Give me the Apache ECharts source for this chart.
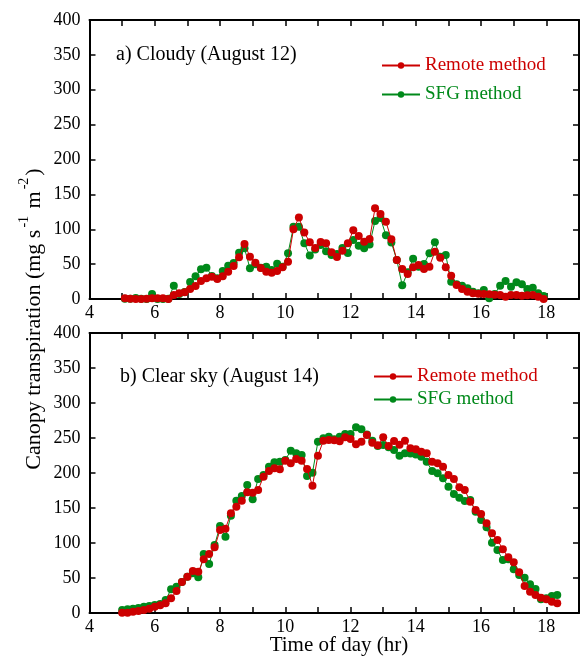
<!DOCTYPE html>
<html>
<head>
<meta charset="utf-8">
<script src="https://cdn.jsdelivr.net/npm/echarts@6/dist/echarts.min.js"></script>
<style>
  html, body { margin: 0; padding: 0; background: #fff; }
  #chart { width: 582px; height: 657px; }
</style>
</head>
<body>
<div id="chart"></div>
<script>
// Canopy transpiration, 10-minute readings, two days.
// Times are minutes after midnight.

// a) Cloudy day (August 12)
const timeA = [305, 315, 325, 335, 345, 355, 365, 375, 385, 395, 405, 415, 425, 435, 445, 455, 465, 475, 485, 495,
  505, 515, 525, 535, 545, 555, 565, 575, 585, 595, 605, 615, 625, 635, 645, 655, 665, 675, 685, 695,
  705, 715, 725, 735, 745, 755, 765, 775, 785, 795, 805, 815, 825, 835, 845, 855, 865, 875, 885, 895,
  905, 915, 925, 935, 945, 955, 965, 975, 985, 995, 1005, 1015, 1025, 1035, 1045, 1055, 1065, 1075];
const remoteA = [1, 0.5, 0, 0, 0.5, 1, 1, 1, 0, 5.7, 8.1, 9.6, 14.3, 18.6, 25.8, 29.6, 32, 28.7, 32.5, 39.2,
  47.3, 59.7, 78.9, 60.7, 52.1, 44.4, 39.2, 37.5, 40.3, 45.4, 53.5, 100, 116.8, 95.4, 81.2, 73.1, 81.7, 79.8, 66.9, 60.2,
  69.3, 79.8, 98.4, 90.3, 82.2, 86, 130, 121.9, 110.9, 85.5, 55.9, 43, 35.8, 45.4, 48.7, 43, 46.4, 67.9, 59.3, 45.4,
  33.5, 20.1, 14.3, 10.5, 8.1, 7.6, 7.2, 6.7, 6.2, 5.7, 3.3, 5.7, 5.7, 4.8, 5.3, 5.7, 3.3, 0];
const sfgA = [0.5, 0.5, 1.4, 0.5, 0, 7.2, 0, 0, 0.5, 19.1, 7, 10, 24.4, 32.5, 42.5, 44.9, 33, 29.6, 40.1, 47.8,
  51.6, 66.4, 72.6, 44, 50, 44.9, 46.3, 41.6, 50.7, 46.3, 65.5, 103.5, 103.7, 79.8, 62.3, 71, 77.5, 68.5, 63.1, 64.5,
  73, 66, 84.6, 76.2, 72.6, 78, 111.8, 116, 91.3, 81, 55.9, 19.6, 38.2, 57.8, 46.4, 50.2, 65.5, 81.2, 60.7, 63.1,
  24.9, 21, 19.1, 15.3, 10.5, 8.1, 12.9, 1, 7.2, 19.1, 25.8, 17.7, 23.9, 21, 14.3, 16.2, 8.1, 4.3];

// b) Clear-sky day (August 14)
const timeB = [300, 310, 320, 330, 340, 350, 360, 370, 380, 390, 400, 410, 420, 430, 440, 450, 460, 470, 480, 490,
  500, 510, 520, 530, 540, 550, 560, 570, 580, 590, 600, 610, 620, 630, 640, 650, 660, 670, 680, 690,
  700, 710, 720, 730, 740, 750, 760, 770, 780, 790, 800, 810, 820, 830, 840, 850, 860, 870, 880, 890,
  900, 910, 920, 930, 940, 950, 960, 970, 980, 990, 1000, 1010, 1020, 1030, 1040, 1050, 1060, 1070, 1080, 1090, 1100];
const remoteB = [0.5, 0.5, 1.9, 2.9, 4.3, 6.2, 9, 11, 13.8, 21, 31.4, 44.3, 51.9, 60, 59, 76.7, 84.3, 93.8, 118.6, 120.5,
  142.4, 151.9, 160.5, 172.4, 171.9, 175.7, 194.8, 202.9, 206.7, 205.2, 217.6, 213.8, 220, 217.6, 205.7, 181.9, 224.8, 246.2, 247.1, 246.7,
  245.2, 251, 248.6, 241, 244.8, 254.3, 243.3, 239.5, 251, 238.6, 245.7, 240.5, 246, 235.2, 234, 230.5, 228.1, 216.2, 213.8, 209,
  197.1, 191.4, 179.5, 175.7, 159, 147.1, 141.4, 128.1, 113.8, 104.3, 91, 79.5, 72.4, 58.1, 38.6, 30.5, 25.7, 21.9, 19.5, 16.2, 13.8];
const sfgB = [4.3, 5.2, 6.2, 7.1, 9, 10, 11.4, 12.9, 18.6, 33.8, 37.6, 44.3, 51.9, 56.7, 51, 84.3, 70, 97.1, 124.3, 109,
  139, 160.5, 167.1, 182.9, 162.6, 191.4, 197.1, 209, 215.2, 216.2, 218.6, 231.9, 228.1, 225.7, 195.7, 200.5, 244.8, 249.5, 251.9, 248.1,
  251.9, 255.7, 255.7, 265.2, 262.4, 255, 246.2, 238.6, 240, 236.7, 232.9, 224.5, 228.1, 228, 226.5, 223.3, 216.2, 202.9, 199.5, 192.4,
  180.5, 170, 164.8, 160, 161.4, 144.8, 132.9, 122.4, 100.5, 90, 75.7, 76.7, 62.4, 54.3, 50.5, 41, 34.3, 19.5, 21, 24.3, 25.7];

const FONT = '"Liberation Serif", "Times New Roman", serif';
const RED = '#cc0000';
const GREEN = '#00891a';

const toPairs = (mins, vals) => mins.map((m, i) => [m / 60, vals[i]]);

function xAxisFor(grid, pos, withLabels) {
  return {
    type: 'value', gridIndex: grid, position: pos, min: 4, max: 19, interval: 1,
    axisLine: { show: true, onZero: false, lineStyle: { color: '#000', width: 2 } },
    axisTick: { show: true, inside: true, length: 6, lineStyle: { color: '#000', width: 1.5 } },
    axisLabel: {
      show: withLabels, margin: 5, color: '#000', fontFamily: FONT, fontSize: 18,
      formatter: v => (v % 2 === 0 && v < 19) ? String(v) : ''
    },
    splitLine: { show: false }
  };
}

function yAxisFor(grid, pos, withLabels) {
  return {
    type: 'value', gridIndex: grid, position: pos, min: 0, max: 400, interval: 50,
    axisLine: { show: true, onZero: false, lineStyle: { color: '#000', width: 2 } },
    axisTick: { show: true, inside: true, length: 6, lineStyle: { color: '#000', width: 1.5 } },
    axisLabel: { show: withLabels, margin: 9, color: '#000', fontFamily: FONT, fontSize: 18 },
    splitLine: { show: false }
  };
}

function lineSeries(name, color, xi, yi, data, z) {
  return {
    type: 'line', name: name, xAxisIndex: xi, yAxisIndex: yi, data: data,
    symbol: 'circle', symbolSize: 8, showSymbol: true, z: z,
    lineStyle: { color: color, width: 1 },
    itemStyle: { color: color },
    emphasis: { disabled: true }
  };
}

function legendAt(left, top, gap) {
  return {
    left: left, top: top, orient: 'vertical', itemWidth: 38, itemHeight: 8, itemGap: gap,
    selectedMode: false,
    textStyle: { fontFamily: FONT, fontSize: 19 },
    data: [
      { name: 'Remote method', textStyle: { color: RED } },
      { name: 'SFG method', textStyle: { color: GREEN } }
    ]
  };
}

const chart = echarts.init(document.getElementById('chart'), null, { renderer: 'canvas' });

chart.setOption({
  animation: false,
  backgroundColor: '#fff',
  grid: [
    { left: 89.5, top: 20, width: 490.5, height: 279 },
    { left: 89.5, top: 333, width: 490.5, height: 280 }
  ],
  xAxis: [
    xAxisFor(0, 'bottom', true), xAxisFor(0, 'top', false),
    xAxisFor(1, 'bottom', true), xAxisFor(1, 'top', false)
  ],
  yAxis: [
    yAxisFor(0, 'left', true), yAxisFor(0, 'right', false),
    yAxisFor(1, 'left', true), yAxisFor(1, 'right', false)
  ],
  legend: [legendAt(376, 51, 10), legendAt(368, 362, 4)],
  series: [
    lineSeries('SFG method', GREEN, 0, 0, toPairs(timeA, sfgA), 2),
    lineSeries('Remote method', RED, 0, 0, toPairs(timeA, remoteA), 3),
    lineSeries('SFG method', GREEN, 2, 2, toPairs(timeB, sfgB), 2),
    lineSeries('Remote method', RED, 2, 2, toPairs(timeB, remoteB), 3)
  ],
  graphic: [
    {
      type: 'text', x: 116, y: 55,
      style: { text: 'a) Cloudy (August 12)', fill: '#000', font: '20px ' + FONT, verticalAlign: 'middle' }
    },
    {
      type: 'text', x: 120, y: 377,
      style: { text: 'b) Clear sky (August 14)', fill: '#000', font: '20px ' + FONT, verticalAlign: 'middle' }
    },
    {
      type: 'text', x: 339, y: 645,
      style: { text: 'Time of day (hr)', fill: '#000', font: '21px ' + FONT, align: 'center', verticalAlign: 'middle' }
    },
    {
      type: 'text', x: 31, y: 319, rotation: Math.PI / 2,
      style: {
        text: '{n|Canopy transpiration (mg s}{s|-1}{n| m}{s|-2}{n|)}',
        align: 'center', verticalAlign: 'middle',
        rich: {
          n: { fontFamily: FONT, fontSize: 22, fill: '#000', lineHeight: 28, verticalAlign: 'bottom' },
          s: { fontFamily: FONT, fontSize: 14, fill: '#000', lineHeight: 28, verticalAlign: 'top', padding: [0, 2, 0, 2] }
        }
      }
    }
  ]
});
</script>
</body>
</html>
